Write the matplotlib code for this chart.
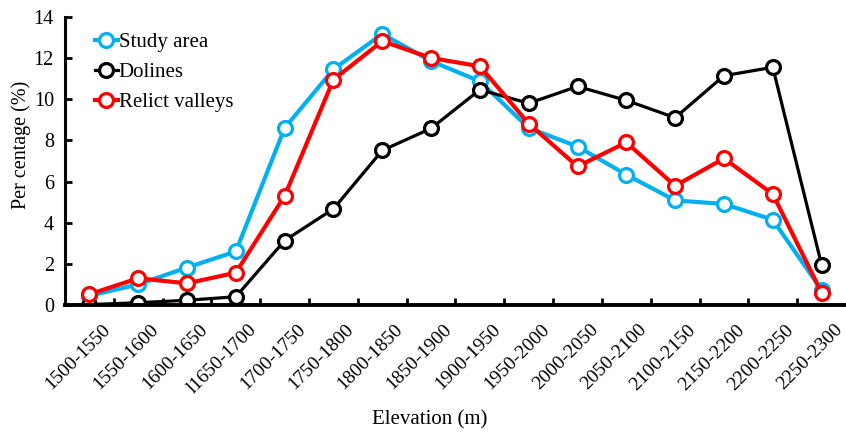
import matplotlib
matplotlib.use("Agg")
import matplotlib.pyplot as plt
from matplotlib.transforms import ScaledTranslation

plt.rcParams['font.family'] = ['Liberation Serif', 'DejaVu Serif']

# elevation classes (the "l1650" typo is in the original figure)
classes = ['1500-1550', '1550-1600', '1600-1650', 'l1650-1700', '1700-1750',
           '1750-1800', '1800-1850', '1850-1900', '1900-1950', '1950-2000',
           '2000-2050', '2050-2100', '2100-2150', '2150-2200', '2200-2250',
           '2250-2300']

study_area = [0.45, 1.0, 1.82, 2.6, 8.6, 11.45, 13.17, 11.85, 10.87, 8.6,
              7.7, 6.33, 5.08, 4.91, 4.14, 0.73]
dolines = [0.02, 0.11, 0.23, 0.4, 3.13, 4.67, 7.51, 8.58, 10.46, 9.8,
           10.62, 9.94, 9.1, 11.14, 11.55, 1.95]
relict_valleys = [0.52, 1.3, 1.05, 1.57, 5.3, 10.95, 12.82, 12.0, 11.6, 8.81,
                  6.73, 7.9, 5.79, 7.12, 5.39, 0.6]

fig = plt.figure(figsize=(8.46, 4.32), dpi=100)
ax = fig.add_axes([0.0768, 0.294, 0.9232, 0.667])

x = range(len(classes))
mk = dict(marker='o', markersize=10, markerfacecolor='white', markeredgewidth=2.3)
ax.plot(x, study_area, color='#00B0F0', lw=3, markeredgecolor='#00B0F0', label='Study area', **mk)
ax.plot(x, dolines, color='black', lw=2.3, markeredgecolor='black', label='Dolines', **mk)
ax.plot(x, relict_valleys, color='#FF0000', lw=3, markeredgecolor='#FF0000', label='Relict valleys', **mk)

ax.set_xlim(-0.5, len(classes) - 0.5)
ax.set_ylim(0, 14)
ax.set_yticks(range(0, 15, 2))
ax.set_xticks([i + 0.5 for i in range(len(classes) - 1)], minor=False)
ax.set_xticks(list(x), minor=True)
ax.set_xticklabels([''] * (len(classes) - 1))
ax.set_xticklabels(classes, minor=True, rotation=45, ha='right', va='center',
                   rotation_mode='anchor', fontsize=14)
ax.tick_params(axis='x', which='major', direction='in', length=5, width=2)
ax.tick_params(axis='x', which='minor', length=0, pad=16)
ax.tick_params(axis='y', direction='in', length=5, width=2, labelsize=14.5, pad=8)
for lab in ax.get_xticklabels(minor=True):
    lab.set_transform(lab.get_transform() + ScaledTranslation(0.18, 0, fig.dpi_scale_trans))

for s in ['top', 'right']:
    ax.spines[s].set_visible(False)
ax.spines['left'].set_linewidth(2.2)
ax.spines['bottom'].set_linewidth(2.8)

ax.set_xlabel('Elevation (m)', fontsize=15)
ax.set_ylabel('Per centage (%)', fontsize=14.5)
ax.xaxis.set_label_coords(0.467, -0.365)
ax.yaxis.set_label_coords(-0.043, 0.556)

ax.legend(loc='upper left', bbox_to_anchor=(0.038, 0.945), frameon=False, fontsize=15,
          handlelength=1.1, handletextpad=0.05, labelspacing=0.5, borderaxespad=0,
          borderpad=0)

fig.savefig('out.png', dpi=100)
